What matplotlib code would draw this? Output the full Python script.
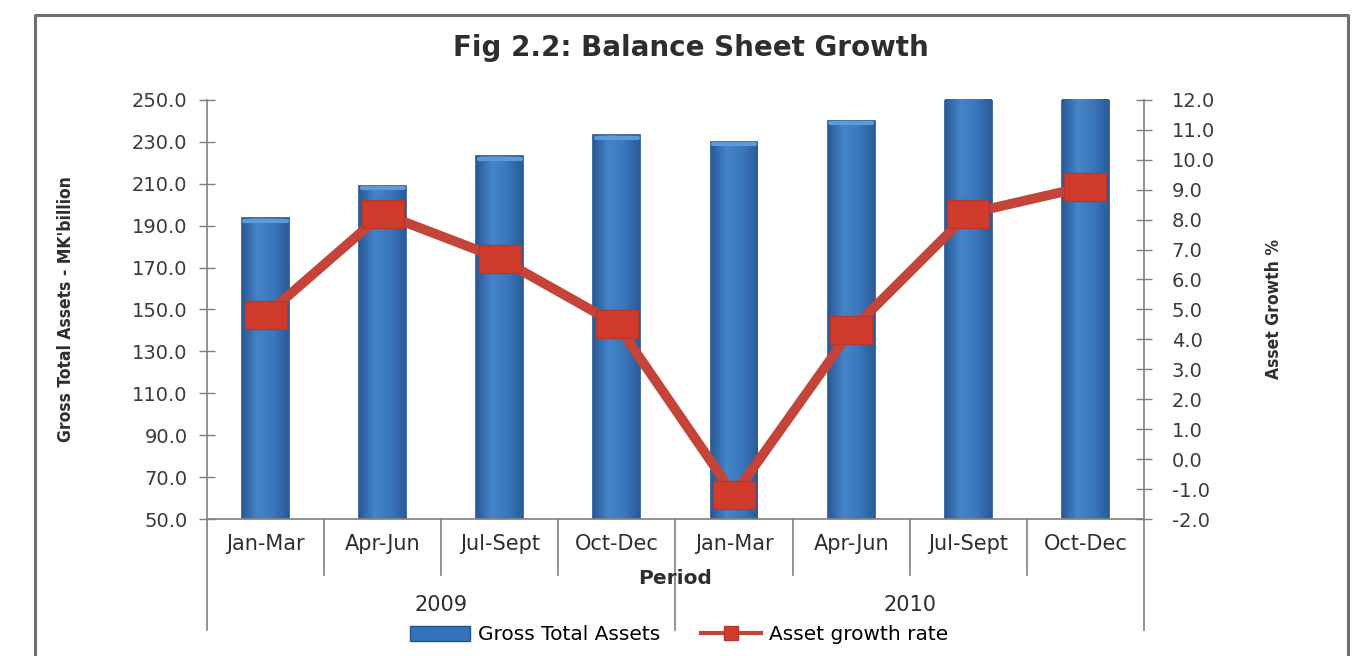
import numpy as np
import matplotlib.pyplot as plt
from matplotlib.colors import LinearSegmentedColormap
from matplotlib.lines import Line2D
from matplotlib.patches import Patch
from matplotlib.path import Path

periods = ['Jan-Mar', 'Apr-Jun', 'Jul-Sept', 'Oct-Dec', 'Jan-Mar', 'Apr-Jun', 'Jul-Sept', 'Oct-Dec']
years = ['2009', '2010']
total_assets = [193.5, 209.0, 223.0, 233.0, 230.0, 240.0, 259.7, 283.3]   # MK' billion
growth_rate = [4.8, 8.2, 6.7, 4.5, -1.2, 4.3, 8.2, 9.1]                 # percent

grey = '#7f7f7f'
red = '#c5443a'
dark = '#2e2e2e'

fig = plt.figure(figsize=(13.58, 6.56), dpi=100)
ax = fig.add_axes([0.1524, 0.2088, 0.69, 0.639])
ax2 = ax.twinx()

x = np.arange(len(periods))
ymin, ymax = 50, 250

# bars with a horizontal shading
bars = ax.bar(x, total_assets, width=0.4, color='#3472b9', edgecolor='#25538d', linewidth=1.2, zorder=2)
shade = LinearSegmentedColormap.from_list('shade', ['#2a5a97', '#4584c9', '#3a77bd', '#2b5c99'])
grad = np.linspace(0, 1, 64).reshape(1, -1)
for b in bars:
    x0, w, h = b.get_x(), b.get_width(), b.get_height()
    im = ax.imshow(grad, cmap=shade, aspect='auto', zorder=2.1,
                   extent=[x0, x0 + w, ymin, min(h, ymax)])
    im.set_clip_path(b)
    if h < ymax:
        # lighter rim on the bar top
        ax.plot([x0 + 0.02, x0 + w - 0.02], [h - 1.2, h - 1.2], color='#5d9ad8',
                lw=3, solid_capstyle='round', zorder=2.2)

ax.set_xlim(-0.5, len(periods) - 0.5)
ax.set_ylim(ymin, ymax)
left_ticks = np.arange(ymin, ymax + 1, 20)
ax.set_yticks(left_ticks)
ax.set_yticklabels([f'{v:.1f}' for v in left_ticks], fontsize=14, color='#3a3a3a')

# growth line on the right axis, flat rectangular markers
rect = Path([(-1.5, -1), (1.5, -1), (1.5, 1), (-1.5, 1), (-1.5, -1)],
            [Path.MOVETO, Path.LINETO, Path.LINETO, Path.LINETO, Path.CLOSEPOLY])
ax2.plot(x, growth_rate, color=red, lw=7, marker=rect, ms=30, mfc='#d13b2c',
         mec='#b5372c', mew=1, zorder=3, solid_joinstyle='miter')
ax2.set_ylim(-2, 12)
right_ticks = np.arange(-2, 12.1, 1)
ax2.set_yticks(right_ticks)
ax2.set_yticklabels([f'{v:.1f}' for v in right_ticks], fontsize=14, color='#3a3a3a')

for a in (ax, ax2):
    for s in a.spines.values():
        s.set_color(grey)
        s.set_linewidth(1.2)
    a.spines['top'].set_visible(False)
ax.spines['right'].set_visible(False)
ax2.spines['left'].set_visible(False)
ax2.spines['bottom'].set_visible(False)

ax.tick_params(axis='y', direction='inout', length=12, width=1, color=grey, pad=8)
ax2.tick_params(axis='y', direction='inout', length=12, width=1, color=grey, pad=14)

# category labels and group separators
ax.set_xticks(x)
ax.set_xticklabels(periods, fontsize=15, color=dark)
ax.tick_params(axis='x', length=0, pad=11)
xt = ax.get_xaxis_transform()
for b in np.arange(-0.5, len(periods), 1):
    depth = -0.265 if b in (-0.5, 3.5, 7.5) else -0.134
    ax.plot([b, b], [0, depth], transform=xt, color=grey, lw=1.2, clip_on=False)
for i, yr in enumerate(years):
    ax.text(1.5 + 4 * i, -0.205, yr, transform=xt, ha='center', va='center',
            fontsize=15, color=dark)
ax.text(3.5, -0.142, 'Period', transform=xt, ha='center', va='center',
        fontsize=14.5, fontweight='bold', color=dark)

ax.set_ylabel("Gross Total Assets - MK'billion", fontsize=12.5, fontweight='bold',
              fontstretch='condensed', color=dark)
ax.yaxis.set_label_coords(-0.141, 0.5)
ax2.set_ylabel('Asset Growth %', fontsize=12.5, fontweight='bold',
               fontstretch='condensed', color=dark)
ax2.yaxis.set_label_coords(1.129, 0.5)

fig.text(0.509, 1 - 48 / 656, 'Fig 2.2: Balance Sheet Growth', ha='center', va='center',
         fontsize=20, fontweight='bold', color=dark)

handles = [Patch(facecolor='#3472b9', edgecolor='#25538d'),
           Line2D([], [], color=red, lw=3, marker='s', ms=10, mfc='#d13b2c', mec='#b5372c')]
fig.legend(handles, ['Gross Total Assets', 'Asset growth rate'], loc='center',
           bbox_to_anchor=(0.5, 1 - 635 / 656), ncol=2, frameon=False, columnspacing=2.0,
           handlelength=3.0, handletextpad=0.4, prop={'size': 14.5})

# open frame around the chart
fw, fh = 1358, 656
fig.add_artist(Line2D([35 / fw, 35 / fw, 1348 / fw, 1348 / fw],
                      [0, 1 - 15 / fh, 1 - 15 / fh, 0], color='#6f6f6f', lw=2.2))

fig.savefig('out.png', dpi=100)
